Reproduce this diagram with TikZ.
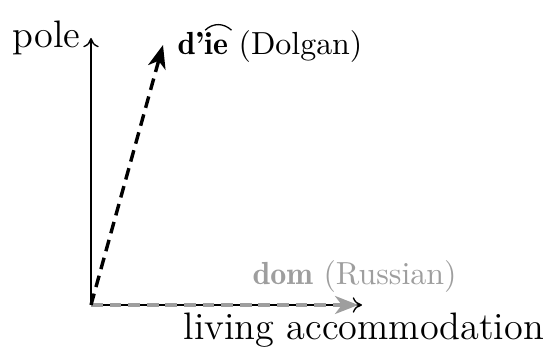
\documentclass[tikz,border=0pt]{standalone}
\usetikzlibrary{arrows.meta}
\definecolor{lightgr}{gray}{0.62}
\newcommand{\demi}{\fontseries{b}\selectfont}
\newcommand{\mytie}[1]{\rlap{\tikz[overlay,x=1pt,y=1pt]\draw[line width=0.42pt] (0.3,8.0) .. controls (2.8,10.4) and (6.2,10.4) .. (8.8,8.0);}#1}
\begin{document}
\begin{tikzpicture}[x=0.3226pt,y=-0.3226pt,
  axis/.style={line width=0.45pt,-{To[length=3pt,width=5pt]}},
  vec/.style={line width=1.1pt,dash pattern=on 3.8pt off 2.2pt,-{Stealth[length=7.5pt,width=5.8pt,inset=2.2pt]}},
  axlabel/.style={font=\fontsize{12.35}{14}\selectfont,inner sep=0pt},
  veclabel/.style={font=\fontsize{10.3}{12}\selectfont,inner sep=0pt}]
\useasboundingbox (0,0) rectangle (543,347);
\coordinate (O) at (91,305);
\coordinate (Y) at (91,38);
\coordinate (X) at (362,305);
\coordinate (D) at (163,45);
\draw[axis] (O) -- (Y);
\draw[axis] (O) -- (X);
\draw[vec,lightgr,shorten >=1.2pt] (O) -- (X);
\draw[vec] (O) -- (D);
\node[axlabel,anchor=base east] (pole) at (81,48) {pole};
\node[axlabel,anchor=base west] (living) at (183,340) {living accommodation};
\node[veclabel,anchor=base west] (dolgan) at (177,55) {{\demi d'\mytie{ie}} (Dolgan)};
\node[veclabel,anchor=base west,text=lightgr] (russian) at (252,285) {{\demi dom} (Russian)};
\end{tikzpicture}
\end{document}
